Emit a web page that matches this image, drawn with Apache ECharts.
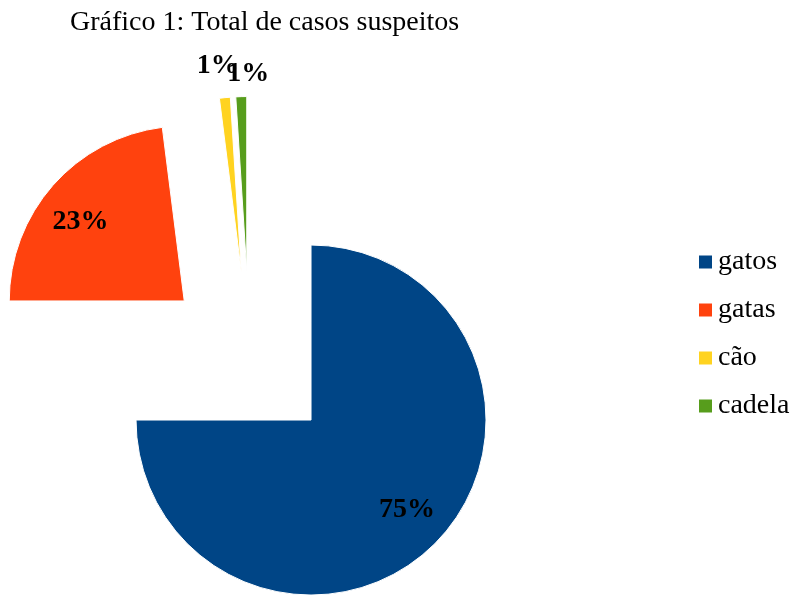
<!DOCTYPE html>
<html>
<head>
<meta charset="utf-8">
<script src="https://cdn.jsdelivr.net/npm/echarts@6/dist/echarts.min.js"></script>
<style>
  html, body { margin: 0; padding: 0; background: #fff; }
  #chart { width: 799px; height: 595px; }
</style>
</head>
<body>
<div id="chart"></div>
<script>
// Suspected cases by group
const categories = ['gatos', 'gatas', 'cão', 'cadela'];
const values = [75, 23, 1, 1];
const colors = ['#004586', '#ff420e', '#ffd320', '#579d1c'];
const titleText = 'Gráfico 1: Total de casos suspeitos';

const serif = 'Liberation Serif';
const center = [249.5, 358.5];
const R = 175;
const explode = 87;
const total = values.reduce((a, b) => a + b, 0);
const isSmall = (v) => v / total < 0.05;

// small nudges for the value labels, in category order
const labelNudge = [[1, -5], [-3, 10], [-4, 0], [8, 9]];

// every slice is pulled out of the pie by the same distance
const common = {
  type: 'pie',
  center: center,
  startAngle: 90,
  clockwise: true,
  selectedMode: 'multiple',
  selectedOffset: explode,
  animation: false,
  avoidLabelOverlap: false,
  labelLine: { show: false },
  emphasis: { disabled: true }
};

const labelFont = {
  color: '#000',
  fontFamily: serif,
  fontWeight: 'bold',
  fontSize: 28,
  formatter: '{d}%'
};

const slices = Object.assign({}, common, {
  name: 'casos',
  radius: [0, R],
  color: colors,
  label: { show: false },
  itemStyle: { borderColor: '#fff', borderWidth: 1 },
  data: categories.map((name, i) => ({
    name: name,
    value: values[i],
    selected: true
  }))
});

// transparent ring used only to place a group of labels
function labelRing(name, radius, pick) {
  return Object.assign({}, common, {
    name: name,
    silent: true,
    radius: radius,
    legendHoverLink: false,
    itemStyle: { color: 'rgba(0,0,0,0)' },
    label: Object.assign({ position: 'inside' }, labelFont),
    labelLayout: (p) => ({
      dx: labelNudge[p.dataIndex][0],
      dy: labelNudge[p.dataIndex][1],
      hideOverlap: false
    }),
    data: categories.map((cat, i) => ({
      name: cat,
      value: values[i],
      selected: true,
      label: { show: pick(i) }
    }))
  });
}

const innerLabels = labelRing('rotulos', [R * 0.5, R], (i) => !isSmall(values[i]));
const outerLabels = labelRing('rotulos-externos', [R + 8, R + 50], (i) => isSmall(values[i]));

const legendFont = { fontFamily: serif, fontSize: 28, color: '#000' };

const theme = {
  textStyle: { fontFamily: serif },
  legend: { textStyle: legendFont }
};

const chart = echarts.init(document.getElementById('chart'), theme, { renderer: 'canvas' });
chart.setOption({
  backgroundColor: '#fff',
  textStyle: { fontFamily: serif },
  title: {
    text: titleText,
    left: 65,
    top: 4,
    textStyle: { fontFamily: serif, fontWeight: 'normal', fontSize: 28, color: '#000' }
  },
  legend: {
    orient: 'vertical',
    left: 697,
    top: 248,
    padding: 0,
    itemWidth: 15,
    itemHeight: 15,
    itemGap: 20,
    itemTextGap: 8,
    icon: 'rect',
    textStyle: legendFont,
    data: categories.slice()
  },
  series: [slices, innerLabels, outerLabels]
});
</script>
</body>
</html>
